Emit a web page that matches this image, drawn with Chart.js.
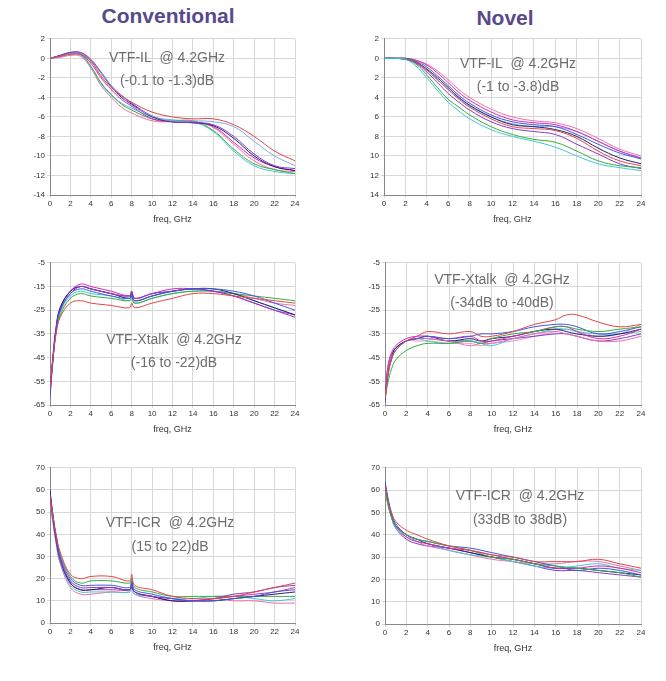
<!DOCTYPE html>
<html>
<head>
<meta charset="utf-8">
<script src="https://cdn.jsdelivr.net/npm/chart.js@4.4.0/dist/chart.umd.min.js"></script>
<style>
  body { margin: 0; background: #fff; width: 666px; height: 681px; position: relative; overflow: hidden; font-family: "Liberation Sans", Arial, sans-serif; }
  .box { position: absolute; }
  .ttl { position: absolute; font-weight: bold; font-size: 21px; color: #574a8c; transform: translateX(-50%); white-space: nowrap; }
  .note { position: absolute; font-size: 14px; color: #6d6d6d; transform: translateX(-50%); white-space: nowrap; }
</style>
</head>
<body>
<div class="ttl" style="left:168px;top:4px">Conventional</div>
<div class="ttl" style="left:505px;top:6px">Novel</div>

<div class="box" style="left:20px;top:32px"><canvas id="c1"></canvas></div>
<div class="box" style="left:354px;top:32px"><canvas id="c2"></canvas></div>
<div class="box" style="left:20px;top:256px"><canvas id="c3"></canvas></div>
<div class="box" style="left:355px;top:256px"><canvas id="c4"></canvas></div>
<div class="box" style="left:20px;top:461px"><canvas id="c5"></canvas></div>
<div class="box" style="left:355px;top:461px"><canvas id="c6"></canvas></div>

<div class="note" style="left:167px;top:49px">VTF-IL&nbsp; @ 4.2GHz</div>
<div class="note" style="left:167px;top:72px">(-0.1 to -1.3)dB</div>
<div class="note" style="left:518px;top:55px">VTF-IL&nbsp; @ 4.2GHz</div>
<div class="note" style="left:518px;top:78px">(-1 to -3.8)dB</div>
<div class="note" style="left:174px;top:331px">VTF-Xtalk&nbsp; @ 4.2GHz</div>
<div class="note" style="left:174px;top:354px">(-16 to -22)dB</div>
<div class="note" style="left:502px;top:271px">VTF-Xtalk&nbsp; @ 4.2GHz</div>
<div class="note" style="left:502px;top:294px">(-34dB to -40dB)</div>
<div class="note" style="left:170px;top:514px">VTF-ICR&nbsp; @ 4.2GHz</div>
<div class="note" style="left:170px;top:538px">(15 to 22)dB</div>
<div class="note" style="left:520px;top:487px">VTF-ICR&nbsp; @ 4.2GHz</div>
<div class="note" style="left:520px;top:511px">(33dB to 38dB)</div>

<script>
// trace colours
const C = {
  red: "rgb(225,70,70)", blue: "rgb(60,90,220)", purple: "rgb(130,60,200)", navy: "rgb(30,30,110)",
  magenta: "rgb(220,40,180)", green: "rgb(60,170,60)", cyan: "rgb(60,200,210)", pink: "rgb(240,110,170)",
  lblue: "rgb(120,170,230)", lpink: "rgb(230,150,210)"
};

// ---- Conventional IL
const xIL = [0,1,2,3,4,5,6,7,8,10,12,14,16,18,20,22,24];
const ilConv = {
  red:     [0,0.2,0.4,0.4,-0.3,-1.8,-3,-3.8,-4.5,-5.5,-6,-6.2,-6.2,-6.8,-8,-9.5,-10.5],
  lblue:   [0,0.2,0.5,0.5,-0.2,-1.5,-2.8,-3.9,-4.8,-5.9,-6.4,-6.4,-6.5,-7,-8.5,-10,-11],
  purple:  [0,0.3,0.6,0.6,-0.1,-1.4,-2.8,-3.8,-4.6,-5.9,-6.5,-6.6,-6.8,-8,-9.8,-11,-11.3],
  navy:    [0,0.3,0.6,0.55,-0.2,-1.5,-2.9,-4,-4.7,-6,-6.5,-6.6,-6.9,-8.2,-10,-11.1,-11.5],
  magenta: [0,0.2,0.5,0.4,-0.5,-2,-3.2,-4.2,-4.9,-6.2,-6.5,-6.5,-7,-8.6,-10.2,-11.1,-11.5],
  green:   [0,0.2,0.5,0.4,-0.8,-2.5,-3.7,-4.7,-5.3,-6.2,-6.4,-6.4,-7.4,-9.3,-10.8,-11.4,-11.8],
  cyan:    [0,0.2,0.4,0.3,-0.9,-2.6,-3.8,-4.6,-5.1,-6,-6.3,-6.5,-7.5,-9.5,-11,-11.6,-11.8],
  pink:    [0,0.1,0.3,0.2,-1,-2.8,-4,-5,-5.6,-6.4,-6.5,-6.5,-7.1,-8.8,-10.5,-11.4,-11.6]
};
// ---- Novel IL
const ilNovel = {
  cyan:    [0,0,-0.1,-0.8,-2,-3.3,-4.5,-5.4,-6.2,-7.3,-8,-8.5,-9.1,-10,-10.8,-11.2,-11.5],
  green:   [0,0,-0.1,-0.6,-1.7,-3,-4.2,-5,-5.8,-7,-7.8,-8.3,-8.6,-9.5,-10.5,-11,-11.2],
  red:     [0,0,-0.1,-0.4,-1.2,-2.2,-3.2,-4.2,-5,-6.2,-7,-7.2,-7.4,-8.2,-9.5,-10.5,-11],
  blue:    [0,0,0,-0.3,-0.9,-1.8,-2.8,-3.8,-4.6,-5.8,-6.5,-6.8,-7,-7.8,-8.8,-9.7,-10.3],
  magenta: [0,0,0,-0.2,-0.7,-1.5,-2.5,-3.5,-4.3,-5.5,-6.3,-6.6,-6.8,-7.5,-8.5,-9.5,-10.2],
  navy:    [0,0,-0.1,-0.4,-1.1,-2,-3,-4,-4.8,-6,-6.8,-7,-7.3,-8,-9.2,-10.2,-10.8],
  pink:    [0,0,0,-0.2,-0.6,-1.3,-2.2,-3.2,-4,-5.2,-6,-6.4,-6.6,-7.2,-8.2,-9.3,-10],
  purple:  [0,0,-0.1,-0.5,-1.4,-2.5,-3.6,-4.5,-5.3,-6.5,-7.2,-7.5,-7.8,-8.8,-9.8,-10.8,-11.3],
  lblue:   [0,0,-0.1,-0.5,-1.2,-2.2,-3.2,-4.1,-4.9,-6,-6.7,-7,-7,-7.5,-8.5,-9.5,-10.3]
};
// ---- Conventional Xtalk
const xXtC = [0,0.3,0.6,1,2,3,4,6,7.8,8,8.3,10,12,14,16,18,20,22,24];
const xtConv = {
  red:     [-58,-45,-35,-28,-22,-21,-22,-23,-24,-22,-24,-22,-20,-18,-18,-19,-20,-21,-22],
  blue:    [-60,-45,-33,-25,-18,-16,-17,-19,-20,-18,-21,-19,-17,-16,-16,-17,-19,-22,-25],
  purple:  [-62,-46,-33,-25,-18,-15,-16,-18,-19,-17,-20,-18,-17,-16,-17,-19,-22,-25,-28],
  navy:    [-60,-45,-33,-24,-17,-15,-16,-18,-20,-18,-21,-19,-17,-16,-16,-18,-21,-24,-27],
  magenta: [-58,-44,-32,-24,-17,-14,-15,-17,-19,-17,-20,-18,-16,-16,-17,-19,-22,-25,-27],
  green:   [-58,-45,-34,-27,-20,-18,-19,-20,-21,-19,-22,-20,-18,-17,-17,-18,-19,-20,-21],
  cyan:    [-60,-45,-34,-26,-19,-17,-18,-19,-21,-19,-22,-20,-18,-17,-17,-18,-21,-24,-27],
  pink:    [-58,-43,-32,-24,-17,-15,-16,-18,-19,-17,-20,-18,-17,-16,-17,-18,-20,-22,-23]
};
// ---- Novel Xtalk
const xXtN = [0,0.3,0.6,1,2,3,4,6,8,9,10,12,14,16,17,18,20,22,24];
const xtNovel = {
  red:     [-62,-52,-46,-42,-38,-36,-34,-35,-34,-36,-36,-34,-31,-29,-27,-27,-30,-32,-31],
  green:   [-62,-55,-50,-46,-42,-40,-39,-39,-38,-39,-37,-35,-34,-32,-32,-33,-34,-33,-32],
  blue:    [-64,-52,-46,-42,-38,-37,-36,-37,-36,-35,-35,-34,-32,-31,-31,-32,-35,-34,-32],
  magenta: [-60,-48,-43,-40,-37,-36,-36,-37,-36,-38,-38,-36,-34,-32,-32,-34,-37,-36,-33],
  pink:    [-62,-50,-45,-42,-38,-37,-37,-38,-40,-39,-39,-37,-35,-34,-35,-36,-38,-38,-36],
  navy:    [-63,-51,-45,-41,-38,-37,-36,-38,-37,-38,-37,-36,-34,-33,-34,-35,-36,-35,-33],
  cyan:    [-60,-48,-44,-41,-38,-37,-38,-39,-38,-39,-40,-37,-35,-33,-33,-34,-35,-35,-34],
  purple:  [-62,-50,-44,-41,-38,-37,-37,-38,-38,-39,-38,-37,-36,-35,-35,-36,-38,-37,-35],
  lpink:   [-61,-49,-44,-41,-38,-38,-38,-39,-39,-40,-39,-38,-36,-34,-33,-34,-36,-35,-31]
};
// ---- Conventional ICR
const icrConv = {
  red:     [57,48,40,32,22,20,21,21,19,22,17,15,12,11,11,12,14,16,18],
  blue:    [58,48,39,30,20,17,17,17,16,19,15,13,11,10,10,11,12,14,15],
  purple:  [58,47,38,29,19,16,16,16,15,18,14,12,11,10,11,13,14,16,17],
  navy:    [60,48,38,29,18,15,15,16,15,18,14,12,10,10,10,11,12,13,14],
  magenta: [56,46,37,28,18,15,15,15,15,17,14,12,10,10,11,12,13,14,16],
  green:   [58,48,39,31,21,18,19,19,18,20,16,14,12,12,12,12,12,12,12],
  cyan:    [55,45,36,27,17,14,14,14,14,16,13,12,11,11,12,12,11,10,11],
  pink:    [56,45,36,27,16,13,13,14,14,16,13,11,10,10,11,10,10,9,9]
};
// ---- Novel ICR
const xIcrN = [0,0.3,0.6,1,2,3,4,6,8,10,12,14,16,18,20,22,24];
const icrNovel = {
  red:     [62,55,50,46,42,40,38,35,33,31,30,28,28,28,29,27,25],
  green:   [60,53,48,44,40,38,37,35,33,30,29,27,26,25,24,23,21],
  blue:    [64,56,50,45,40,38,37,35,34,32,30,28,26,24,25,24,22],
  magenta: [62,55,49,44,39,37,36,34,33,31,29,27,25,25,26,25,23],
  navy:    [63,55,49,44,40,38,36,34,32,30,29,27,25,25,24,23,22],
  cyan:    [60,53,48,43,39,37,36,33,31,30,28,26,25,26,27,25,24],
  pink:    [61,54,48,44,40,37,35,33,31,29,28,27,27,28,28,26,24],
  purple:  [62,54,48,43,38,36,35,34,32,30,28,26,24,24,23,22,21]
};

function makePanel(id, plotW, plotH, xs, series, ymin, ymax, step, absLabels) {
  const cv = document.getElementById(id);
  cv.width = plotW + 40;
  cv.height = plotH + 40;
  cv.style.width = cv.width + "px";
  cv.style.height = cv.height + "px";
  const datasets = Object.keys(series).map(k => ({
    data: series[k].map((v, i) => ({ x: xs[i], y: v })),
    borderColor: C[k],
    borderWidth: 1,
    pointRadius: 0,
    tension: 0.4,
    fill: false
  }));
  return new Chart(cv.getContext("2d"), {
    type: "line",
    data: { datasets },
    options: {
      responsive: false,
      animation: false,
      layout: { padding: { top: 6, right: 10, left: 0, bottom: 0 } },
      plugins: { legend: false, tooltip: { enabled: false } },
      scales: {
        x: {
          type: "linear", min: 0, max: 24,
          ticks: { stepSize: 2, font: { size: 8 }, color: "#333", maxRotation: 0, padding: 1 },
          grid: { color: "#d8d8d8", tickLength: 3 },
          border: { color: "#888" },
          title: { display: true, text: "freq, GHz", font: { size: 9 }, color: "#333", padding: { top: 4 } },
          afterFit: s => { s.height = 34; }
        },
        y: {
          min: ymin, max: ymax,
          ticks: { stepSize: step, font: { size: 8 }, color: "#333", padding: 2,
                   callback: v => absLabels ? Math.abs(v) : v },
          grid: { color: "#d8d8d8", tickLength: 3 },
          border: { color: "#888" },
          afterFit: s => { s.width = 30; }
        }
      }
    }
  });
}

makePanel("c1", 245, 157, xIL, ilConv, -14, 2, 2, false);
makePanel("c2", 257, 157, xIL, ilNovel, -14, 2, 2, true);
makePanel("c3", 245, 143, xXtC, xtConv, -65, -5, 10, false);
makePanel("c4", 256, 143, xXtN, xtNovel, -65, -5, 10, false);
makePanel("c5", 245, 156, xXtC, icrConv, 0, 70, 10, false);
makePanel("c6", 256, 157, xIcrN, icrNovel, 0, 70, 10, false);
</script>
</body>
</html>
